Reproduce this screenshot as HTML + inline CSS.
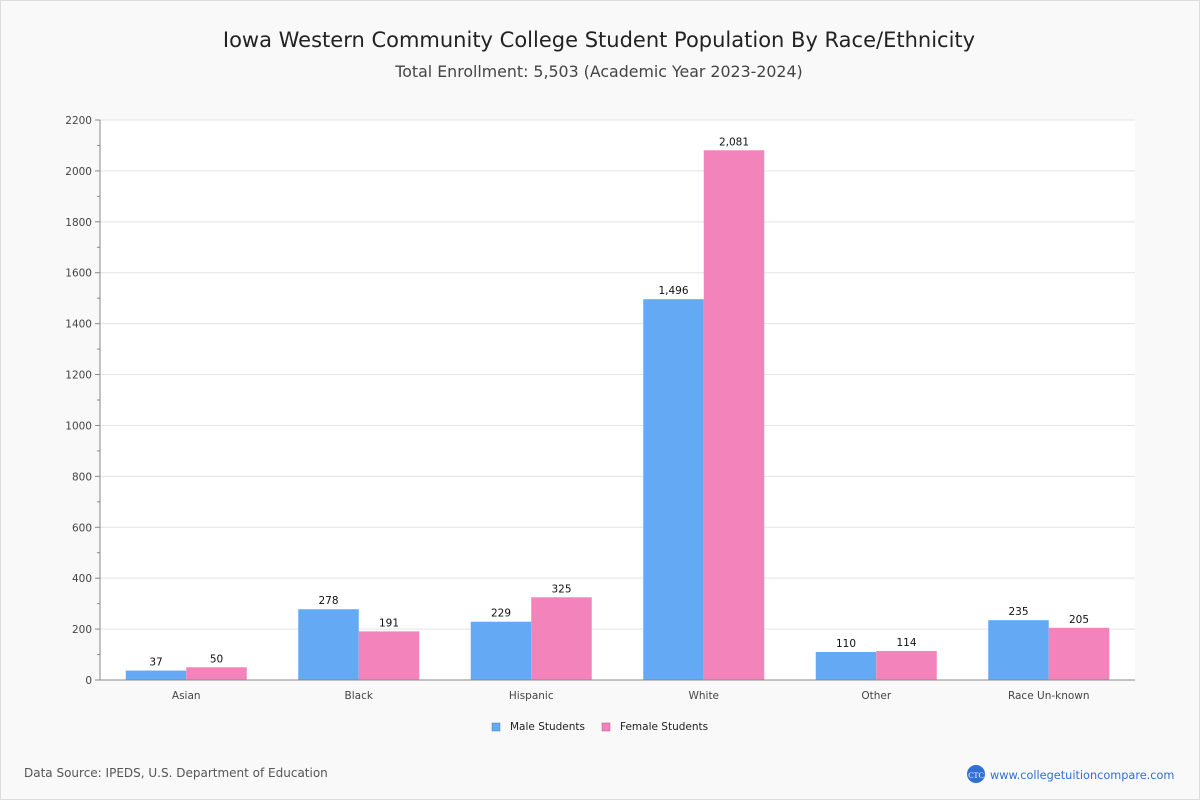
<!DOCTYPE html>
<html><head><meta charset="utf-8"><style>
html,body{margin:0;padding:0;background:#fff}
#wrap{position:relative;width:1198px;height:798px;border:1px solid #ddd;background:#f9f9f9;font-family:"DejaVu Sans","Liberation Sans",sans-serif}
</style></head><body>
<div id="wrap">
<svg id="chart" width="1198" height="798" xmlns="http://www.w3.org/2000/svg">
<text x="598" y="46" text-anchor="middle" font-size="21" fill="#222">Iowa Western Community College Student Population By Race/Ethnicity</text>
<text x="598" y="76" text-anchor="middle" font-size="15.8" fill="#444">Total Enrollment: 5,503 (Academic Year 2023-2024)</text>
<rect x="99" y="119" width="1035" height="560" fill="#fff"/>
<g id="grid"></g><g id="bars"></g><g id="axes"></g>
<g>
<g><rect x="491" y="722" width="8" height="8" fill="#63a9f3" stroke="#4a7fb8" stroke-width="0.5"/><text x="509" y="729" font-size="10.5" fill="#222">Male Students</text></g>
<g><rect x="601" y="722" width="8" height="8" fill="#f283bb" stroke="#b85a8a" stroke-width="0.5"/><text x="619" y="729" font-size="10.5" fill="#222">Female Students</text></g>
</g>
<text x="23" y="776" font-size="12" fill="#555">Data Source: IPEDS, U.S. Department of Education</text>
<g><circle cx="975" cy="773" r="9" fill="#2f6fd6"/><text x="975" y="777" text-anchor="middle" font-size="8" fill="#fff" font-family="Liberation Serif,serif">CTC</text>
<text x="989" y="778" font-size="11.3" fill="#2f6fd6">www.collegetuitioncompare.com</text></g>
</svg></div>
<script>
const categories=["Asian","Black","Hispanic","White","Other","Race Un-known"];
const maleValues=[37,278,229,1496,110,235];
const femaleValues=[50,191,325,2081,114,205];
const yTicks=[0,200,400,600,800,1000,1200,1400,1600,1800,2000,2200];
const NS="http://www.w3.org/2000/svg";
const X0=99,X1=1134,Y0=679,Y1=119,YMAX=2200;
const y=v=>Y0-(v/YMAX)*(Y0-Y1);
const band=(X1-X0)/categories.length;
const xc=i=>X0+band*(i+0.5);
function mk(t,a,p){const e=document.createElementNS(NS,t);for(const k in a)e.setAttribute(k,a[k]);p.appendChild(e);return e;}
const grid=document.getElementById('grid'),bars=document.getElementById('bars'),axes=document.getElementById('axes');
yTicks.forEach(v=>{
 if(v>0){const g=mk('line',{x1:X0,x2:X1,y1:y(v),y2:y(v),stroke:'#e3e3e3'},grid);
 
 }
 mk('line',{x1:X0-5,x2:X0,y1:y(v),y2:y(v),stroke:'#888'},axes);
 const t=mk('text',{x:X0-8,y:y(v)+4,'text-anchor':'end','font-size':10.5,fill:'#444'},axes);t.textContent=v;
 
 
 if(v<YMAX) mk('line',{x1:X0-3,x2:X0,y1:y(v+100),y2:y(v+100),stroke:'#888'},axes);
});
mk('line',{x1:X0,x2:X0,y1:Y1,y2:Y0,stroke:'#888'},axes);
mk('line',{x1:X0,x2:X1,y1:Y0,y2:Y0,stroke:'#888'},axes);
const bw=60.5;
categories.forEach((c,i)=>{
 [[maleValues[i],'#63a9f3',-1,'male'],[femaleValues[i],'#f283bb',0,'female']].forEach(([v,col,o,s])=>{
  const bx=xc(i)+o*bw;
  const r=mk('rect',{x:bx,y:y(v),width:bw,height:Y0-y(v),fill:col},bars);
  
  
  const t=mk('text',{x:bx+bw/2,y:y(v)-5,'text-anchor':'middle','font-size':10.5,fill:'#111'},bars);
  t.textContent=v.toLocaleString('en-US');
  
  
 });
 const t=mk('text',{x:xc(i),y:698,'text-anchor':'middle','font-size':10.5,fill:'#444'},axes);t.textContent=c;
 
 
});
</script>
</body></html>
